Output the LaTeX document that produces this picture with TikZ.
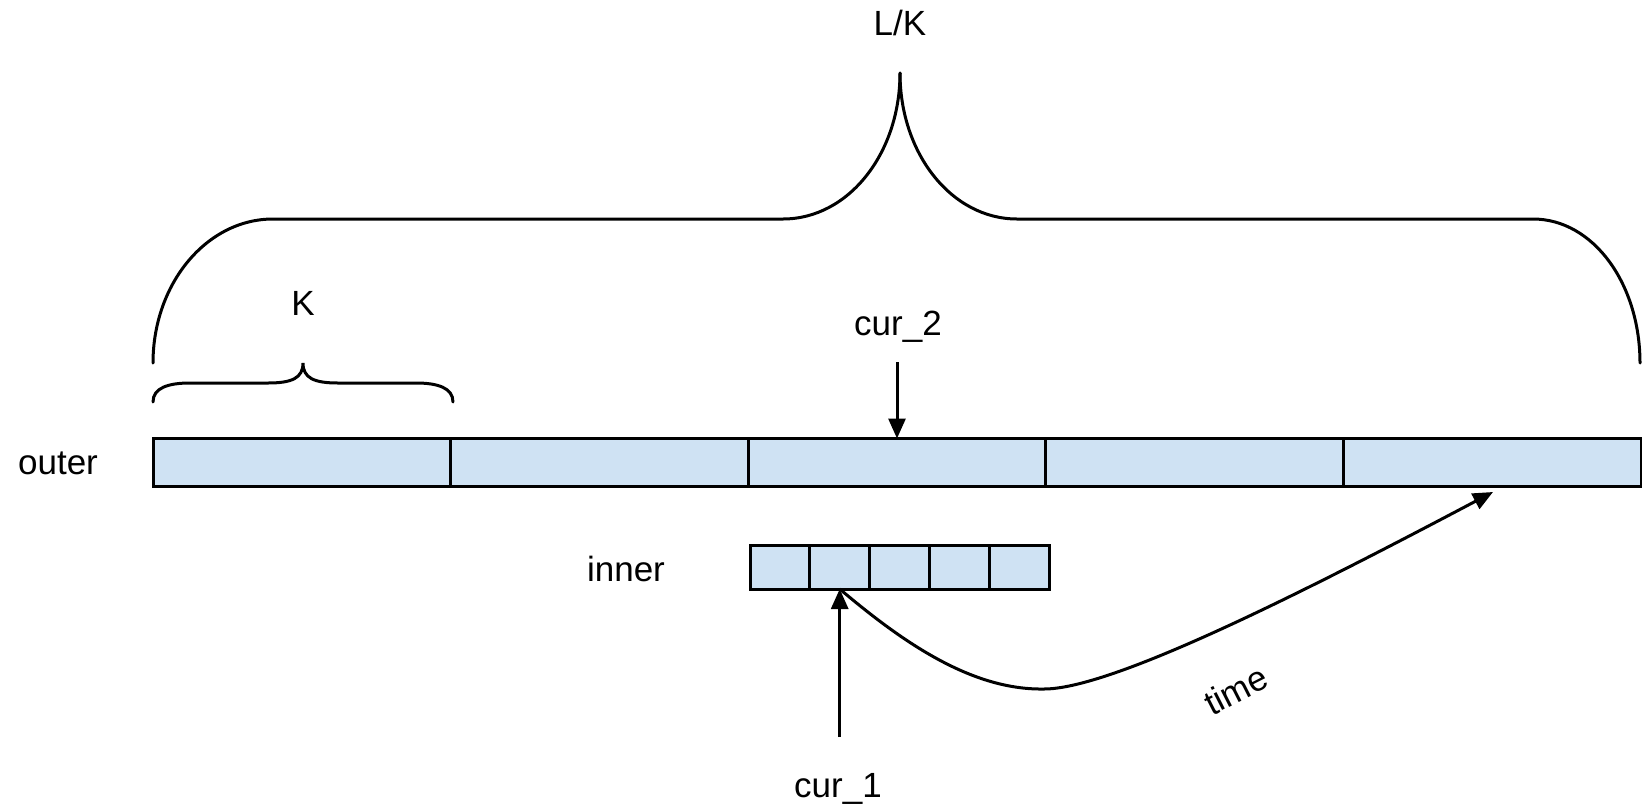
\documentclass[tikz,border=0pt]{standalone}
\usepackage{fontspec}
\setmainfont{Liberation Sans}
\usetikzlibrary{arrows.meta}
\definecolor{cellblue}{HTML}{CFE2F3}
\begin{document}
\begin{tikzpicture}[x=1pt,y=-1pt,
  cell/.style={draw, fill=cellblue, minimum height=48pt, inner sep=0pt, outer sep=0pt, line width=3pt},
  lbl/.style={font=\fontsize{35}{40}\selectfont, inner sep=0pt},
  ptr/.style={-{Triangle[length=20pt,width=17pt]}, line width=3pt},
  brace/.style={line width=3pt, line cap=round}]
\useasboundingbox (0,0) rectangle (1642,804);
% outer cells
\foreach \i in {1,...,5}
  \node[cell, minimum width=297.6pt, anchor=west] (o\i) at ({153+(\i-1)*297.6}, 462.5) {};
% inner cells
\foreach \i in {1,...,5}
  \node[cell, minimum width=59.8pt, minimum height=44pt, anchor=west] (i\i) at ({750+(\i-1)*59.8}, 567) {};
% labels
\node[lbl, anchor=base] (outerlbl) at (58,474) {outer};
\node[lbl, anchor=base] (innerlbl) at (626,581) {inner};
\node[lbl, anchor=base] (klbl) at (303,315) {K};
\node[lbl, anchor=base] (lklbl) at (900,35) {L/K};
\node[lbl, anchor=base] (cur2) at (898,335) {cur\_2};
\node[lbl, anchor=base] (cur1) at (838,797) {cur\_1};
\node[lbl, rotate=27] (timelbl) at (1236,690) {time};
% pointers
\coordinate (c2start) at (897,362);
\draw[ptr] (c2start) -- (o3.north);
\coordinate (c1start) at (839.7,737);
\draw[ptr] (c1start) -- (i2.south);
\coordinate (tend) at (1493,492);
\draw[ptr] (i2.south) .. controls (900,640) and (970,690) .. (1043,689)
  .. controls (1110,690) and (1300,594) .. (tend);
% big brace
\draw[brace] (153,363) .. controls (153,283.5) and (206.8,219) .. (273,219) -- (783,219)
  .. controls (848,219) and (900,154) .. (900,73);
\draw[brace] (900,73) .. controls (900,154) and (952,219) .. (1017,219) -- (1533,219)
  .. controls (1593,219) and (1640,283.5) .. (1640,363);
% K brace
\draw[brace] (153,402) .. controls (153,388) and (168,383) .. (190,383) -- (268,383)
  .. controls (292,383) and (303,378) .. (303,363)
  .. controls (303,378) and (314,383) .. (338,383) -- (416,383)
  .. controls (438,383) and (453,388) .. (453,402);
\end{tikzpicture}
\end{document}
